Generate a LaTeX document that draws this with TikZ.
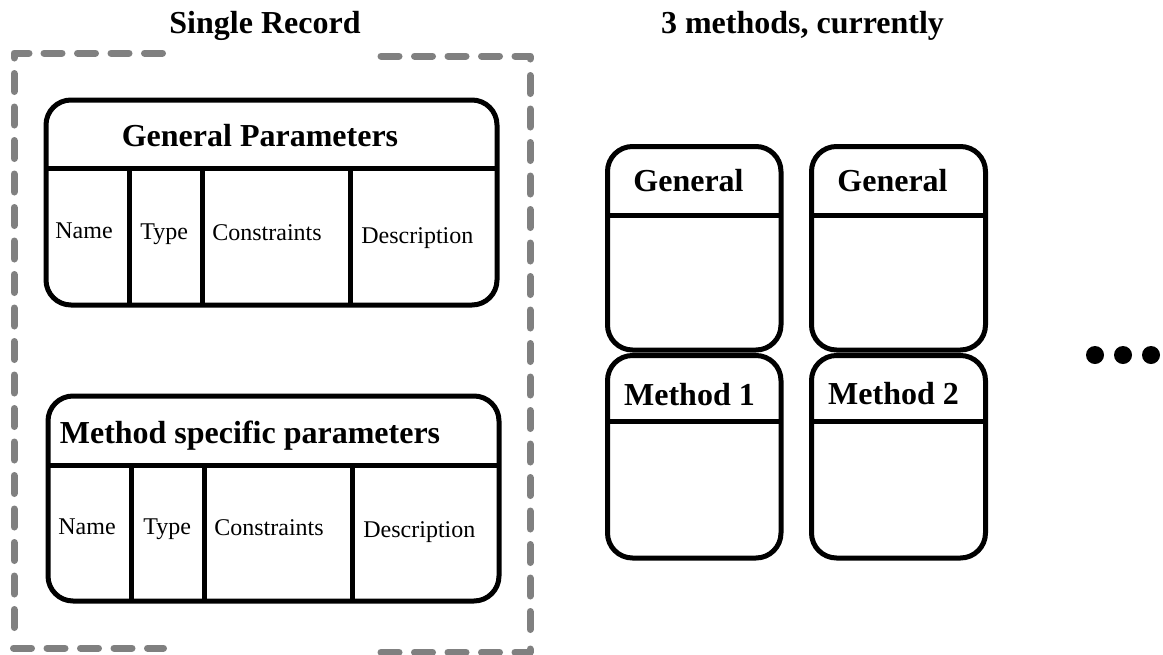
\documentclass[tikz,border=0pt]{standalone}
\usepackage{fontspec}
\setmainfont{Liberation Serif}
\definecolor{framegray}{RGB}{128,128,128}
\begin{document}
\begin{tikzpicture}[x=0.5pt,y=-0.5pt,
  recbox/.style={line width=2.5pt, rounded corners=12.5pt},
  sepline/.style={line width=2.5pt},
  framedash/.style={draw=framegray, line width=3.5pt, line cap=round, line join=round, dash pattern=on 9pt off 7.75pt},
  framesolid/.style={draw=framegray, line width=3.5pt, line cap=round, line join=round},
  hd/.style={font=\fontsize{16}{19}\selectfont\bfseries, inner sep=0pt, anchor=base},
  cell/.style={font=\fontsize{12}{14}\selectfont, inner sep=0pt, anchor=base west}]
\useasboundingbox (0,0) rectangle (1163,654);

% dashed frame
\draw[framesolid] (14,58) -- (14,53) -- (29,53);
\draw[framedash] (44,53) -- (164,53);
\draw[framedash] (381,56) -- (530,56) -- (530,62);
\draw[framedash] (14,73.5) -- (14,629.5);
\draw[framedash] (530,75.5) -- (530,629.5);
\draw[framedash] (13.5,648) -- (163.5,648);
\draw[framedash] (381,652) -- (530,652) -- (530,646);

% titles
\node[hd] (t1) at (265,33) {Single Record};
\node[hd] (t2) at (802.5,33) {3 methods, currently};

% General Parameters table
\draw[recbox] (46,100) rectangle (497,305);
\draw[sepline] (46,168) -- (497,168);
\draw[sepline] (129,168) -- (129,305);
\draw[sepline] (202,168) -- (202,305);
\draw[sepline] (350,168) -- (350,305);
\node[hd] (gp) at (260,146) {General Parameters};
\node[cell] (gpn) at (55,238) {Name};
\node[cell] (gpt) at (140,239) {Type};
\node[cell] (gpc) at (212,240) {Constraints};
\node[cell] (gpd) at (361,243) {Description};

% Method specific parameters table
\draw[recbox] (48,396) rectangle (499,601);
\draw[sepline] (48,465) -- (499,465);
\draw[sepline] (131,465) -- (131,601);
\draw[sepline] (204.5,465) -- (204.5,601);
\draw[sepline] (352,465) -- (352,601);
\node[hd] (ms) at (250,443) {Method specific parameters};
\node[cell] (msn) at (58,534) {Name};
\node[cell] (mst) at (143,534) {Type};
\node[cell] (msc) at (214,535) {Constraints};
\node[cell] (msd) at (363,537) {Description};

% method columns
\draw[recbox] (607.5,146.5) rectangle (781,350);
\draw[sepline] (607.5,215) -- (781,215);
\node[hd] (g1) at (688.5,191) {General};
\draw[recbox] (607.5,355.5) rectangle (781,558);
\draw[sepline] (607.5,421) -- (781,421);
\node[hd] (m1) at (689.5,405) {Method 1};

\draw[recbox] (811.5,146.5) rectangle (985.5,350);
\draw[sepline] (811.5,215) -- (985.5,215);
\node[hd] (g2) at (892.5,191) {General};
\draw[recbox] (811.5,355.5) rectangle (985.5,558);
\draw[sepline] (811.5,421) -- (985.5,421);
\node[hd] (m2) at (893.5,404) {Method 2};

% ellipsis dots
\fill (1095,355) circle[radius=9];
\fill (1123,355) circle[radius=9];
\fill (1151,355) circle[radius=9];
\end{tikzpicture}
\end{document}
